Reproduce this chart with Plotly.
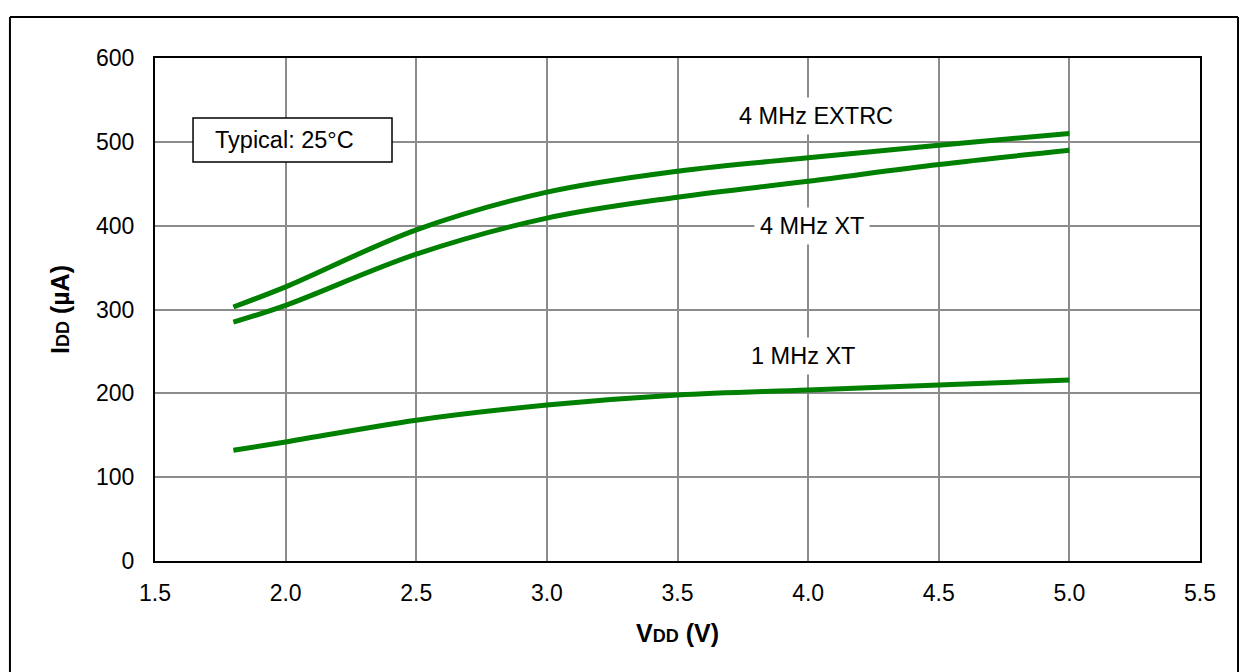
import plotly.graph_objects as go

# supply voltage (V) and supply current (uA)
vdd = [1.8, 2.0, 2.5, 3.0, 3.5, 4.0, 4.5, 5.0]
idd_4mhz_extrc = [303, 327, 395, 440, 465, 481, 496, 510]
idd_4mhz_xt = [285, 305, 366, 409, 434, 453, 473, 490]
idd_1mhz_xt = [132, 142, 168, 186, 198, 204, 210, 216]

x_ticks = [1.5, 2.0, 2.5, 3.0, 3.5, 4.0, 4.5, 5.0, 5.5]
y_ticks = [0, 100, 200, 300, 400, 500, 600]

series = [
    ("4 MHz EXTRC", idd_4mhz_extrc),
    ("4 MHz XT", idd_4mhz_xt),
    ("1 MHz XT", idd_1mhz_xt),
]

GREEN = "#008000"
FONT = "Liberation Sans, Arial, sans-serif"

fig = go.Figure()

for name, values in series:
    fig.add_trace(
        go.Scatter(
            x=vdd,
            y=values,
            mode="lines",
            name=name,
            line=dict(color=GREEN, width=5, shape="spline", smoothing=1.0),
            showlegend=False,
        )
    )

# curve labels
labels = [
    ("4 MHz EXTRC", 4.03, 531),
    ("4 MHz XT", 4.015, 400),
    ("1 MHz XT", 3.98, 245),
]
for text, lx, ly in labels:
    fig.add_annotation(
        x=lx, y=ly, text=text, showarrow=False,
        xanchor="center", yanchor="middle",
        font=dict(family=FONT, size=23.5, color="black"),
        bgcolor="white", borderpad=5,
    )

# "Typical" box
fig.add_shape(
    type="rect", xref="paper", yref="paper",
    x0=0.0364, x1=0.2268, y0=0.7932, y1=0.8807,
    line=dict(color="black", width=1.5), fillcolor="white", layer="above",
)
fig.add_annotation(
    xref="paper", yref="paper", x=0.1244, y=0.837,
    xanchor="center", yanchor="middle",
    text="Typical: 25°C", showarrow=False,
    font=dict(family=FONT, size=23.5, color="black"),
)

# outer frame round the whole chart: top, left and right edges only
frame_l, frame_r, frame_t, frame_b = -0.1388, 1.0364, 1.0815, -0.3
for fx0, fy0, fx1, fy1 in [
    (frame_l, frame_t, frame_r, frame_t),
    (frame_l, frame_b, frame_l, frame_t),
    (frame_r, frame_b, frame_r, frame_t),
]:
    fig.add_shape(
        type="line", xref="paper", yref="paper",
        x0=fx0, y0=fy0, x1=fx1, y1=fy1,
        line=dict(color="black", width=2),
    )

axis_common = dict(
    showline=True, linecolor="black", linewidth=2, mirror=True,
    showgrid=True, gridcolor="#8c8c8c", gridwidth=1.5,
    ticks="", zeroline=False,
    tickfont=dict(family=FONT, size=23, color="black"),
)

# page body has an 8px margin, so the figure starts 8px in from the corner
fig.update_layout(
    width=1239, height=664,
    margin=dict(l=147, r=47, t=50, b=111),
    paper_bgcolor="white", plot_bgcolor="white",
    xaxis=dict(
        range=[1.5, 5.5], tickvals=x_ticks,
        ticktext=[f"{v:.1f}" for v in x_ticks],
        ticklabelstandoff=10,
        title=dict(
            text="<b>V<span style='font-size:18px'>DD</span> (V)</b>",
            font=dict(family=FONT, size=25, color="black"), standoff=20,
        ),
        **axis_common,
    ),
    yaxis=dict(
        range=[0, 600], tickvals=y_ticks,
        ticklabelstandoff=14,
        title=dict(
            text="<b>I<span style='font-size:18px'>DD</span> (µA)</b>",
            font=dict(family=FONT, size=25, color="black"), standoff=19,
        ),
        **axis_common,
    ),
)

fig.write_html("out.html")
